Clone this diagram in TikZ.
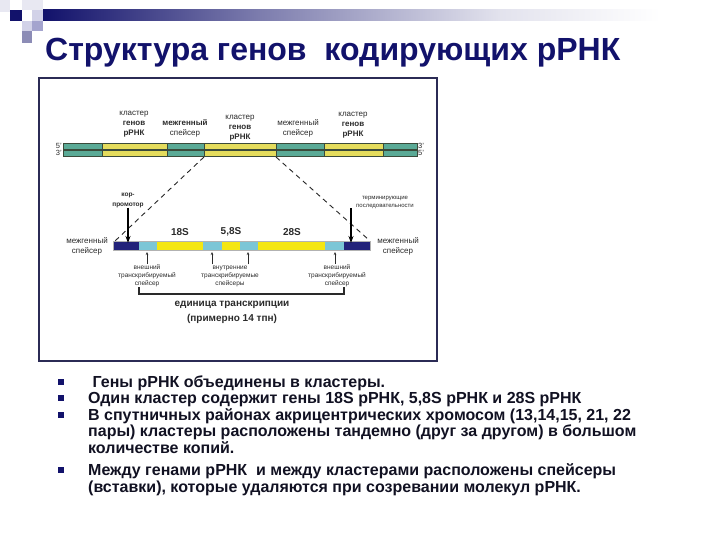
\documentclass[tikz,border=0pt]{standalone}
\usepackage{fontspec}
\setmainfont{Liberation Sans}
\usetikzlibrary{positioning,arrows.meta}
\definecolor{navy}{HTML}{12126B}
\definecolor{framecol}{HTML}{2B2B55}
\definecolor{dnateal}{HTML}{5AAA96}
\definecolor{dnayel}{HTML}{E4DC5C}
\definecolor{dnaline}{HTML}{3A4A3A}
\definecolor{trnavy}{HTML}{22227A}
\definecolor{trblue}{HTML}{7CC6D6}
\definecolor{tryel}{HTML}{F4E612}
\definecolor{labgray}{HTML}{2A2A2A}
\definecolor{textblk}{HTML}{111122}
\definecolor{sqpale}{HTML}{D2D2E8}
\definecolor{sqmid}{HTML}{A4A4CE}
\definecolor{sqgray}{HTML}{8C8CB6}
\definecolor{sqlight}{HTML}{E8E8F2}

\begin{document}
\begin{tikzpicture}[x=1pt,y=-1pt,
    dnalab/.style={font=\fontsize{8}{10}\selectfont, text=labgray, align=center, inner sep=0pt},
    tinylab/.style={font=\fontsize{6.5}{8}\selectfont, text=labgray, align=center, inner sep=0pt},
    endlab/.style={font=\fontsize{7.5}{9}\selectfont, text=labgray, inner sep=0pt},
    rnalab/.style={font=\bfseries\fontsize{10}{12}\selectfont, text=labgray, inner sep=0pt},
    dashline/.style={dashed, dash pattern=on 5pt off 4pt, line width=0.9pt, black!85},
    bigarrow/.style={-{Stealth[length=7pt,width=5pt]}, line width=1.4pt, black},
    uparrow/.style={-{Stealth[length=3pt,width=2.5pt]}, line width=0.5pt, labgray},
    item/.style={font=\bfseries\fontsize{16}{16.5}\selectfont, text=textblk, anchor=base west, align=left, inner sep=0pt},
    bulletsq/.style={fill=navy, minimum size=6pt, inner sep=0pt}]
  \useasboundingbox (0,0) rectangle (720,540);

  \fill[sqlight] (0,0) rectangle (10,12);
  \fill[sqlight] (22,0) rectangle (43,10);
  \fill[navy] (10,10) rectangle (22,21);
  \fill[sqpale] (32,10) rectangle (43,21);
  \fill[sqpale] (22,21) rectangle (32,31);
  \fill[sqmid] (32,21) rectangle (43,31);
  \fill[sqgray] (22,31) rectangle (32,43);
  \shade[left color=navy, right color=navy!55] (43,10) rectangle (260,21);
  \shade[left color=navy!55, right color=navy!12] (260,10) rectangle (500,21);
  \shade[left color=navy!12, right color=white] (500,10) rectangle (660,21);

  \node[anchor=base west, inner sep=0pt, text=navy, font=\bfseries\fontsize{32}{34}\selectfont] (title) at (45,61) {Структура генов \ кодирующих рРНК};

  \draw[framecol, line width=2.5pt] (39,78) rectangle (437,361);

  \foreach \xa/\xb/\col in {63/102/dnateal,102/167/dnayel,167/204/dnateal,204/276/dnayel,276/324/dnateal,324/383/dnayel,383/417/dnateal}{
    \filldraw[fill=\col, draw=dnaline, line width=0.5pt] (\xa,143) rectangle (\xb,149);
    \filldraw[fill=\col, draw=dnaline, line width=0.5pt] (\xa,150) rectangle (\xb,156);
  }
  \node[endlab, anchor=east] (p5l) at (62,146) {5'};
  \node[endlab, anchor=east] (p3l) at (62,153) {3'};
  \node[endlab, anchor=west] (p3r) at (418,146) {3'};
  \node[endlab, anchor=west] (p5r) at (418,153) {5'};

  \node[dnalab] (clust1) at (134,124) {кластер\\\textbf{генов}\\\textbf{рРНК}};
  \node[dnalab] (spac1) at (185,128) {\textbf{межгенный}\\спейсер};
  \node[dnalab] (clust2) at (240,128) {кластер\\\textbf{генов}\\\textbf{рРНК}};
  \node[dnalab] (spac2) at (298,128) {межгенный\\спейсер};
  \node[dnalab] (clust3) at (353,125) {кластер\\\textbf{генов}\\\textbf{рРНК}};

  \foreach \xa/\xb/\col in {113/139/trnavy,139/157/trblue,157/203/tryel,203/222/trblue,222/240/tryel,240/258/trblue,258/325/tryel,325/344/trblue,344/370/trnavy}{
    \fill[\col] (\xa,241) rectangle (\xb,250);
  }
  \draw[black!30, line width=0.4pt] (113,241) rectangle (370,250);

  \coordinate (dl1) at (204,157);
  \coordinate (dl2) at (115,241);
  \coordinate (dr1) at (276,157);
  \coordinate (dr2) at (369,240);
  \draw[dashline] (dl1) -- (dl2);
  \draw[dashline] (dr1) -- (dr2);

  \node[rnalab] (r18) at (180,232) {18S};
  \node[rnalab] (r58) at (231,232) {5,8S};
  \node[rnalab] (r28) at (292,232) {28S};

  \node[dnalab] (igs1) at (87,246) {межгенный\\спейсер};
  \node[dnalab] (igs2) at (398,246) {межгенный\\спейсер};

  \node[tinylab, font=\bfseries\fontsize{6.5}{10}\selectfont] (prom) at (128,200) {кор-\\промотор};
  \node[tinylab, font=\fontsize{6}{8}\selectfont] (term) at (385,202) {терминирующие\\последовательности};
  \coordinate (promend) at (128,243);
  \coordinate (termend) at (351,243);
  \draw[bigarrow] (prom.south) -- (promend);
  \draw[bigarrow] (term.south -| termend) -- (termend);

  \node[tinylab] (ets1) at (147,276) {внешний\\транскрибируемый\\спейсер};
  \node[tinylab] (its) at (230,276) {внутренние\\транскрибируемые\\спейсеры};
  \node[tinylab] (ets2) at (337,276) {внешний\\транскрибируемый\\спейсер};
  \coordinate (a1) at (147,252);
  \coordinate (a2) at (212,252);
  \coordinate (a3) at (248,252);
  \coordinate (a4) at (335,252);
  \draw[uparrow] (ets1.north -| a1) ++(0,-1) -- (a1);
  \draw[uparrow, line width=0.8pt] (its.north -| a2) ++(0,-1) -- (a2);
  \draw[uparrow] (its.north -| a3) ++(0,-1) -- (a3);
  \draw[uparrow] (ets2.north -| a4) ++(0,-1) -- (a4);

  \coordinate (b1) at (139,287);
  \coordinate (b2) at (344,287);
  \draw[labgray, line width=1.2pt] (b1) -- ++(0,7) -| (b2);
  \node[rnalab, align=center, font=\bfseries\fontsize{10}{15}\selectfont] (unit) at (232,312) {единица транскрипции\\(примерно 14 тпн)};

  \node[item] (it1) at (88,387) {\ Гены рРНК объединены в кластеры.};
  \node[item] (it2) at (88,403) {Один кластер содержит гены 18S рРНК, 5,8S рРНК и 28S рРНК};
  \node[item] (it3) at (88,453) {В спутничных районах акрицентрических хромосом (13,14,15, 21, 22\\пары) кластеры расположены тандемно (друг за другом) в большом\\количестве копий.};
  \node[item] (it4) at (88,492) {Между генами рРНК \ и между кластерами расположены спейсеры\\(вставки), которые удаляются при созревании молекул рРНК.};
  \foreach \n/\yy in {b1/382,b2/398,b3/415,b4/470}{
    \node[bulletsq] (\n) at (61,\yy) {};
  }
\end{tikzpicture}
\end{document}
